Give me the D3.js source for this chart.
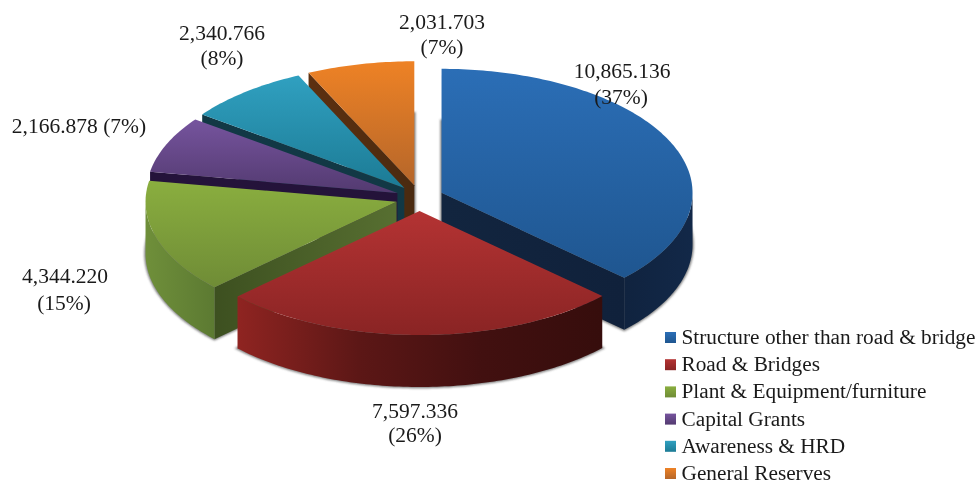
<!DOCTYPE html>
<html>
<head>
<meta charset="utf-8">
<script src="https://cdn.jsdelivr.net/npm/d3@7/dist/d3.min.js"></script>
<style>
html,body{margin:0;padding:0;background:#fff;}
svg{display:block;}
text{font-family:"Liberation Serif","Times New Roman",serif;fill:#1a1a1a;}
</style>
</head>
<body>
<svg id="c" width="979" height="485"></svg>
<script>
// ---- data ----
const categories = ["Structure other than road & bridge","Road & Bridges","Plant & Equipment/furniture","Capital Grants","Awareness & HRD","General Reserves"];
const values = [10865.136, 7597.336, 4344.220, 2166.878, 2340.766, 2031.703];
const valueLabels = ["10,865.136","7,597.336","4,344.220","2,166.878","2,340.766","2,031.703"];
const percentLabels = ["(37%)","(26%)","(15%)","(7%)","(8%)","(7%)"];

// ---- styles ----
const topLight = ["#2b6eb6","#b43333","#8aae3f","#76549e","#30a0c0","#ee8225"];
const topDark  = ["#1f5690","#8a2424","#6f8c36","#533a70","#1c7b95","#b5662a"];
const rimStops = [["#10233f","#122848"],["#8f2421","#5c1716","#421010","#360d0c"],["#6f8f3a","#5c7a32"],["#3a2260","#2c1a48"],["#16505f","#123845"],["#6a3810","#5a2f0e"]];
const edgeStops = [["#12253f","#10213b"],["#3a0e0e","#3a0e0e"],["#3d5020","#576f31"],["#24133a","#24133a"],["#123845","#123845"],["#5c3010","#4a2a10"]];

// ---- layout ----
const W=979,H=485, cx=419.5, cy=198, rx=251, ry=124, depth=52, explodeX=24, explodeY=13;
const labelPos = [
 {x:622,y:[78,104],p:621},{x:415,y:[418,442],p:415},{x:65,y:[283,310],p:64},
 {x:79,y:[133],p:79,one:true},{x:222,y:[40,65],p:222},{x:442,y:[29,54],p:442}];

const svg=d3.select("#c");
const defs=svg.append("defs");
const arcs=d3.pie().sort(null).value(d=>d)(values);
const X=d3.scaleLinear().domain([-1,1]).range([cx-rx,cx+rx]);
const Y=d3.scaleLinear().domain([-1,1]).range([cy-ry,cy+ry]);
const line=d3.line();

function stops(g,arr){arr.forEach((c,i)=>g.append("stop").attr("offset",arr.length>1?i/(arr.length-1):0).attr("stop-color",c));}
const blur=defs.append("filter").attr("id","sh").attr("x","-10%").attr("y","-10%").attr("width","120%").attr("height","120%");
blur.append("feGaussianBlur").attr("stdDeviation",1.3);

const slices=arcs.map((a,i)=>{
  const mid=(a.startAngle+a.endAngle)/2;
  const ox=Math.sin(mid)*explodeX, oy=-Math.cos(mid)*explodeY;
  const P=(t,dz=0)=>[X(Math.sin(t))+ox, Y(-Math.cos(t))+oy+dz];
  const apex=[cx+ox,cy+oy];
  const samples=(t0,t1,dz=0)=>{const n=Math.max(2,Math.ceil((t1-t0)*60));return d3.range(n+1).map(k=>P(t0+(t1-t0)*k/n,dz));};
  return {a,i,mid,P,apex,samples};
});

// shadows of the bases
const sg=svg.append("g").attr("filter","url(#sh)");
slices.forEach(s=>{
  const pts=[[s.apex[0],s.apex[1]+depth],...s.samples(s.a.startAngle,s.a.endAngle,depth)];
  sg.append("path").attr("d",line(pts)+"Z").attr("fill","#555").attr("stroke","#555").attr("stroke-width",2.5).attr("opacity",.75);
});

function hGrad(id,x0,x1,arr){
  const g=defs.append("linearGradient").attr("id",id).attr("gradientUnits","userSpaceOnUse").attr("x1",x0).attr("x2",x1).attr("y1",0).attr("y2",0);
  stops(g,arr);
}
const order=slices.slice().sort((p,q)=>Math.cos(q.mid)-Math.cos(p.mid));
const PI=Math.PI;
order.forEach(s=>{
  const {a,i}=s, g=svg.append("g");
  // radial walls
  const drawEdge=(t,key)=>{
    const p=s.P(t);
    const id=`e${i}${key}`;
    hGrad(id,Math.min(p[0],s.apex[0]),Math.max(p[0],s.apex[0]),edgeStops[i]);
    g.append("path").attr("d",line([s.apex,p,[p[0],p[1]+depth],[s.apex[0],s.apex[1]+depth]])+"Z").attr("fill",`url(#${id})`);
  };
  if(Math.sin(a.startAngle)<0 && a.startAngle>PI) drawEdge(a.startAngle,"s");
  if(Math.sin(a.endAngle)>0) drawEdge(a.endAngle,"t");
  // outer wall
  const t0=Math.max(a.startAngle,PI/2), t1=Math.min(a.endAngle,3*PI/2);
  if(t1>t0){
    const up=s.samples(t0,t1), dn=s.samples(t0,t1,depth).reverse();
    const xs=up.map(d=>d[0]);
    const id=`r${i}`;
    hGrad(id,d3.min(xs),d3.max(xs),rimStops[i]);
    g.append("path").attr("d",line(up.concat(dn))+"Z").attr("fill",`url(#${id})`);
  }
  // top face
  const gid=`t${i}`;
  const tg=defs.append("linearGradient").attr("id",gid).attr("x1",0).attr("x2",0).attr("y1",0).attr("y2",1);
  stops(tg,[topLight[i],topDark[i]]);
  const pts=[s.apex,...s.samples(a.startAngle,a.endAngle)];
  g.append("path").attr("d",line(pts)+"Z").attr("fill",`url(#${gid})`);
});

// labels
categories.forEach((c,i)=>{
  const l=labelPos[i];
  const t=svg.append("text").attr("text-anchor","middle").style("font-size","21.5px");
  if(l.one){
    t.attr("x",l.x).attr("y",l.y[0]).text(valueLabels[i]+" "+percentLabels[i]);
  }else{
    t.append("tspan").attr("x",l.x).attr("y",l.y[0]).text(valueLabels[i]);
    t.append("tspan").attr("x",l.p).attr("y",l.y[1]).text(percentLabels[i]);
  }
});

// legend
const legY=d3.scalePoint().domain(categories).range([344,480]);
const leg=svg.append("g");
categories.forEach((c,i)=>{
  const y=legY(c);
  leg.append("rect").attr("x",665).attr("y",y-12).attr("width",11).attr("height",11).attr("fill",`url(#t${i})`);
  leg.append("text").attr("x",681.5).attr("y",y).style("font-size","21.3px").text(c);
});
</script>
</body>
</html>
